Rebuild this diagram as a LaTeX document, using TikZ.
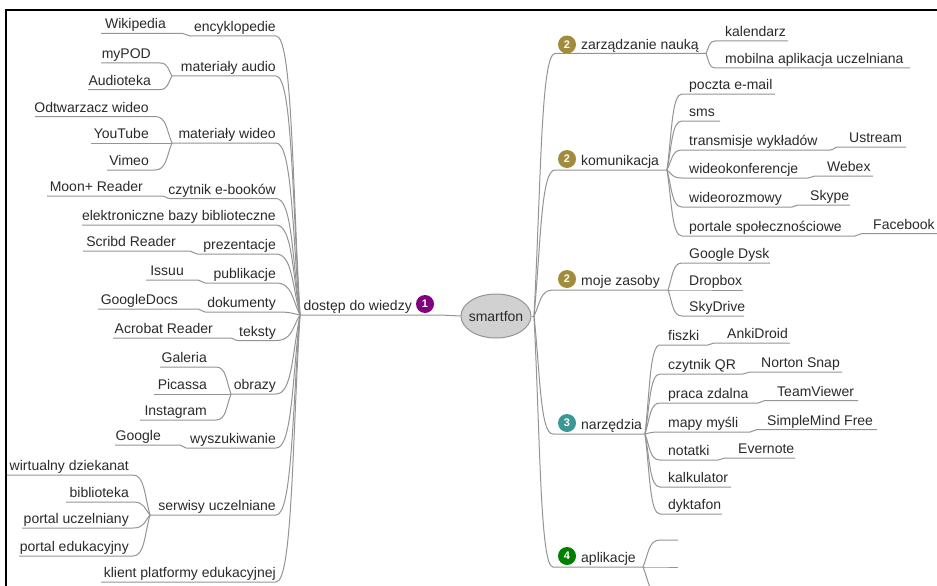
\documentclass[tikz,border=0pt]{standalone}
\usepackage{fontspec}
\setmainfont{Liberation Sans}
\usetikzlibrary{calc,shapes.geometric}
\definecolor{ln}{HTML}{949494}
\definecolor{tx}{HTML}{2A2A2A}
\definecolor{pur}{HTML}{800080}
\definecolor{olv}{HTML}{A08C3C}
\definecolor{tl}{HTML}{3C9696}
\definecolor{gr}{HTML}{008000}
\tikzset{
  conn/.style={draw=ln,line width=1pt},
  lbl/.style={inner sep=0pt,text=tx,font=\fontsize{14}{16}\selectfont},
  badge/.style={circle,inner sep=0pt,minimum size=18pt,text=white,font=\fontsize{11}{12}\bfseries\selectfont},
  root/.style={ellipse,draw=ln,line width=1pt,fill=black!18,minimum width=70pt,minimum height=44pt,inner xsep=-3pt,inner ysep=0pt,text=tx,font=\fontsize{14}{16}\selectfont}
}
% name, anchor side, text x, line y, near end x, far end x, text
\newcommand\Lab[7]{\node[lbl,anchor=base #2] (#1) at (#3,#4-4.5) {#7};
  \coordinate (#1-a) at (#5,#4); \coordinate (#1-b) at (#6,#4);}
\newcommand\Conn[2]{\coordinate (mc) at ($(#1)!.5!(#2-a)$);
  \coordinate (md) at ($(#1)!.33!(#2-a)$);
  \draw[conn] (#1) .. controls (md |- mc) and (md |- #2-a) .. (#2-a) -- (#2-b);}
\newcommand\Scon[2]{\coordinate (mc) at ($(#1)!.5!(#2-a)$);
  \draw[conn] (#1) .. controls (mc |- #1) and (mc |- #2-a) .. (#2-a) -- (#2-b);}
\begin{document}
\begin{tikzpicture}[x=1pt,y=-1pt]
\useasboundingbox (0,0) rectangle (937,586);
\fill[white] (0,0) rectangle (937,586);
\draw[black,line width=2.6pt] (6,586) -- (6,10) -- (937,10);
\node[root] (smart) at (496,316) {smartfon};
\coordinate (hubR) at (534,316);
\draw[conn] (hubR) -- (smart.east);
% left main
\Lab{dostep}{east}{412}{315}{440}{300}{dostęp do wiedzy}
\node[badge,fill=pur] (b1) at (425,304) {1};
\Scon{smart.west}{dostep}
\Lab{ency}{east}{276}{36}{276}{190}{encyklopedie}
\Lab{wiki}{east}{166}{33.5}{183}{101}{Wikipedia}
\Lab{audio}{east}{276}{76}{276}{172}{materiały audio}
\Lab{mypod}{east}{151}{63}{160}{101}{myPOD}
\Lab{audiot}{east}{151}{89.5}{160}{88}{Audioteka}
\Lab{wideo}{east}{276}{143}{276}{172}{materiały wideo}
\Lab{odtw}{east}{149}{116.5}{155}{35}{Odtwarzacz wideo}
\Lab{yt}{east}{149}{143}{172}{91}{YouTube}
\Lab{vimeo}{east}{149}{170}{155}{107}{Vimeo}
\Lab{czyt}{east}{276}{198.5}{276}{170}{czytnik e-booków}
\Lab{moon}{east}{143}{196}{162}{47}{Moon+ Reader}
\Lab{baz}{east}{276}{225}{276}{82}{elektroniczne bazy biblioteczne}
\Lab{prez}{east}{276}{254}{276}{197}{prezentacje}
\Lab{scribd}{east}{176}{251}{190}{83}{Scribd Reader}
\Lab{publ}{east}{276}{283}{276}{205}{publikacje}
\Lab{issuu}{east}{184}{280}{198}{146}{Issuu}
\Lab{dok}{east}{276}{312}{276}{205}{dokumenty}
\Lab{gdocs}{east}{178}{309}{198}{98}{GoogleDocs}
\Lab{teks}{east}{276}{340.5}{276}{238}{teksty}
\Lab{acro}{east}{213}{338}{230}{113}{Acrobat Reader}
\Lab{obr}{east}{276}{394}{276}{231}{obrazy}
\Lab{gal}{east}{207}{367}{216}{160}{Galeria}
\Lab{pic}{east}{207}{394}{231}{154}{Picassa}
\Lab{insta}{east}{207}{420}{216}{140}{Instagram}
\Lab{wysz}{east}{276}{448}{276}{186}{wyszukiwanie}
\Lab{goog}{east}{161}{445}{180}{115}{Google}
\Lab{serw}{east}{276}{515}{276}{150}{serwisy uczelniane}
\Lab{dziek}{east}{129}{475}{133}{7}{wirtualny dziekanat}
\Lab{bibl}{east}{129}{502}{133}{66}{biblioteka}
\Lab{uczel}{east}{129}{528}{133}{22}{portal uczelniany}
\Lab{eduk}{east}{129}{556}{133}{19}{portal edukacyjny}
\Lab{klient}{east}{276}{582}{276}{101}{klient platformy edukacyjnej}
\foreach \n in {ency,audio,wideo,czyt,baz,prez,publ,dok,teks,obr,wysz,serw,klient}{\Conn{dostep-b}{\n}}
\Scon{ency-b}{wiki}
\Conn{audio-b}{mypod}\Conn{audio-b}{audiot}
\Conn{wideo-b}{odtw}\Conn{wideo-b}{yt}\Conn{wideo-b}{vimeo}
\Scon{czyt-b}{moon}\Scon{prez-b}{scribd}\Scon{publ-b}{issuu}\Scon{dok-b}{gdocs}\Scon{teks-b}{acro}\Scon{wysz-b}{goog}
\Conn{obr-b}{gal}\Conn{obr-b}{pic}\Conn{obr-b}{insta}
\Conn{serw-b}{dziek}\Conn{serw-b}{bibl}\Conn{serw-b}{uczel}\Conn{serw-b}{eduk}
% right branches
\Lab{zarz}{west}{581}{53.5}{555}{706}{zarządzanie nauką}
\Lab{kal}{west}{725}{41}{715}{788}{kalendarz}
\Lab{mob}{west}{725}{68}{715}{910}{mobilna aplikacja uczelniana}
\Lab{kom}{west}{581}{170}{555}{667}{komunikacja}
\Lab{poczta}{west}{689}{94}{682}{775}{poczta e-mail}
\Lab{sms}{west}{689}{121}{682}{720}{sms}
\Lab{trans}{west}{689}{150}{682}{830}{transmisje wykładów}
\Lab{ustr}{west}{849}{147}{838}{906}{Ustream}
\Lab{konf}{west}{689}{178}{682}{808}{wideokonferencje}
\Lab{webex}{west}{827}{176}{815}{873}{Webex}
\Lab{rozm}{west}{689}{207}{682}{792}{wideorozmowy}
\Lab{skype}{west}{810}{205}{798}{850}{Skype}
\Lab{port}{west}{689}{236}{682}{855}{portale społecznościowe}
\Lab{fb}{west}{873}{233.5}{862}{937}{Facebook}
\Lab{moje}{west}{581}{290}{553}{668}{moje zasoby}
\Lab{gd}{west}{689}{263}{682}{770}{Google Dysk}
\Lab{drop}{west}{689}{290}{682}{743}{Dropbox}
\Lab{sky}{west}{689}{316}{682}{744}{SkyDrive}
\Lab{narz}{west}{581}{434}{553}{645}{narzędzia}
\Lab{fisz}{west}{668}{345}{660}{708}{fiszki}
\Lab{anki}{west}{727}{343}{714}{790}{AnkiDroid}
\Lab{qr}{west}{668}{374}{660}{743}{czytnik QR}
\Lab{nort}{west}{761}{372}{750}{842}{Norton Snap}
\Lab{praca}{west}{668}{403}{660}{758}{praca zdalna}
\Lab{team}{west}{777}{400.5}{765}{858}{TeamViewer}
\Lab{mapy}{west}{668}{432}{660}{750}{mapy myśli}
\Lab{simple}{west}{767}{429.5}{757}{877}{SimpleMind Free}
\Lab{not}{west}{668}{460}{660}{718}{notatki}
\Lab{ever}{west}{738}{458}{725}{795}{Evernote}
\Lab{kalk}{west}{668}{487}{660}{731}{kalkulator}
\Lab{dykt}{west}{668}{514}{660}{722}{dyktafon}
\Lab{apl}{west}{581}{567}{553}{643}{aplikacje}
\foreach \n in {zarz,kom,moje,narz,apl}{\Conn{hubR}{\n}}
\Conn{zarz-b}{kal}\Conn{zarz-b}{mob}
\foreach \n in {poczta,sms,trans,konf,rozm,port}{\Conn{kom-b}{\n}}
\Scon{trans-b}{ustr}\Scon{konf-b}{webex}\Scon{rozm-b}{skype}\Scon{port-b}{fb}
\foreach \n in {gd,drop,sky}{\Conn{moje-b}{\n}}
\foreach \n in {fisz,qr,praca,mapy,not,kalk,dykt}{\Conn{narz-b}{\n}}
\Scon{fisz-b}{anki}\Scon{qr-b}{nort}\Scon{praca-b}{team}\Scon{mapy-b}{simple}\Scon{not-b}{ever}
\coordinate (ap1-a) at (660,540); \coordinate (ap1-b) at (678,540);
\coordinate (ap2-a) at (660,567); \coordinate (ap2-b) at (678,567);
\coordinate (ap3-a) at (660,594); \coordinate (ap3-b) at (678,594);
\Conn{apl-b}{ap1}\Conn{apl-b}{ap2}\Conn{apl-b}{ap3}
% badges
\node[badge,fill=olv] (b2a) at (567,44.5) {2};
\node[badge,fill=olv] (b2b) at (567,159) {2};
\node[badge,fill=olv] (b2c) at (567,279) {2};
\node[badge,fill=tl] (b3) at (567,423) {3};
\node[badge,fill=gr] (b4) at (567,556) {4};
\end{tikzpicture}
\end{document}
